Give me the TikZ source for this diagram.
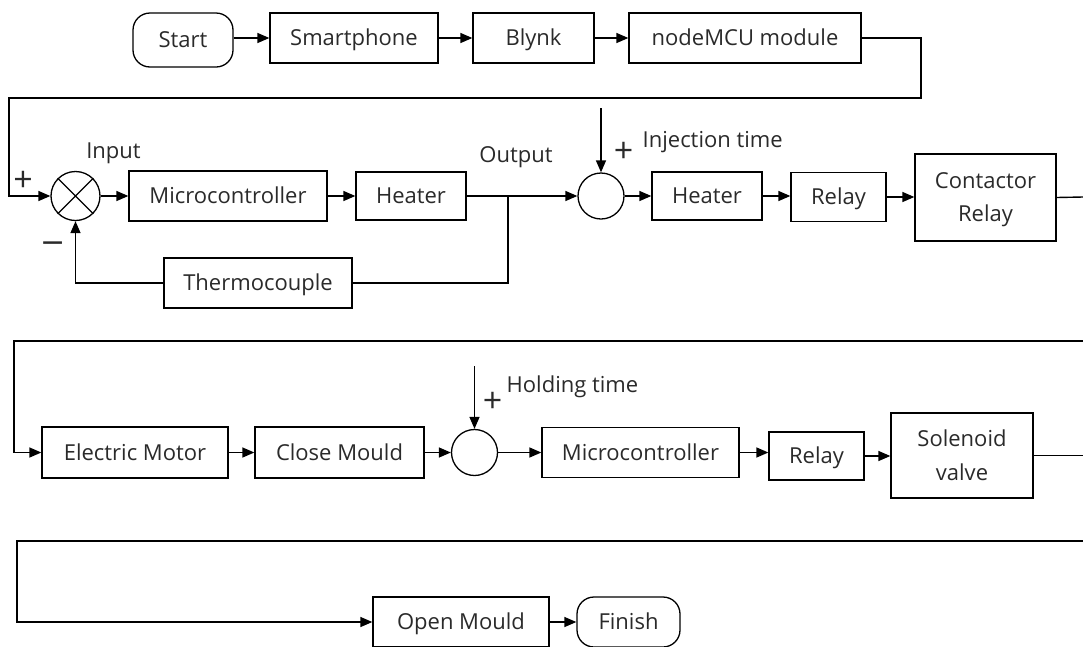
\documentclass[tikz,border=0pt]{standalone}
\usepackage{fontspec}
\setmainfont{Open Sans}
\newfontfamily\djfont{DejaVu Sans}
\usetikzlibrary{arrows.meta}
\definecolor{txt}{HTML}{2A2A2A}
\begin{document}
\begin{tikzpicture}[x=1pt,y=-1pt,
  line width=1.4pt,
  font=\fontsize{22}{26}\selectfont,
  blk/.style={draw, line width=1.3pt, text=txt, inner sep=0pt, text height=15.7pt, text depth=0pt},
  blk2/.style={draw, line width=1.3pt, text=txt, inner sep=0pt, align=center, text depth=0pt},
  term/.style={blk, rounded corners=17pt},
  sumc/.style={draw, line width=1.3pt, circle, inner sep=0pt},
  arr/.style={-{Triangle[length=12pt,width=10pt]}},
  lbl/.style={text=txt, inner sep=0pt},
  sgn/.style={lbl, font=\fontsize{34}{34}\selectfont, text height=25pt, text depth=0pt},
  msgn/.style={lbl, font=\djfont\fontsize{30}{30}\selectfont, text height=19.2pt, text depth=0pt}]
\useasboundingbox (0,0) rectangle (1083,646);
% row 1
\node[term, minimum width=100pt, minimum height=54pt] (start) at (183,40) {Start};
\node[blk, minimum width=168pt, minimum height=50pt] (smart) at (354,38) {Smartphone};
\node[blk, minimum width=121pt, minimum height=50pt] (blynk) at (533.5,38) {Blynk};
\node[blk, minimum width=232pt, minimum height=50pt] (mcu) at (745,38) {nodeMCU module};
\draw[arr] (start.east |- smart) -- (smart.west);
\draw[arr] (smart) -- (blynk);
\draw[arr] (blynk) -- (mcu);
% row 2
\node[sumc, minimum size=49pt] (sum1) at (75.5,196) {};
\draw[line width=1.1pt] (sum1.45) -- (sum1.225) (sum1.135) -- (sum1.315);
\node[blk, minimum width=198pt, minimum height=50pt] (mc1) at (228,196) {Microcontroller};
\node[blk, minimum width=110pt, minimum height=48pt] (heat1) at (411,196) {Heater};
\node[blk, minimum width=188pt, minimum height=50pt] (thermo) at (258,283) {Thermocouple};
\node[sumc, minimum size=46pt] (sum2) at (601,196) {};
\node[blk, minimum width=110pt, minimum height=48pt] (heat2) at (707,196) {Heater};
\node[blk, minimum width=95pt, minimum height=49pt] (relay1) at (838.5,197) {Relay};
\node[blk2, minimum width=141pt, minimum height=87pt] (cont) at (985.5,197.5) {Contactor\\[7pt]Relay};
\coordinate (j1) at (508,196);
\coordinate (inj) at (601,108);
\coordinate (e1) at (1083,197);
\draw[arr] (mcu.east) -- (921,38) -- (921,98) -- (9,98) -- (9,196) -- (sum1.west);
\draw[arr] (sum1) -- (mc1);
\draw[arr] (mc1) -- (heat1);
\draw[arr] (heat1.east) -- (j1) -- (sum2.west);
\draw (j1) -- (j1 |- thermo) -- (thermo.east);
\draw[arr] (thermo.west) -- (sum1 |- thermo) -- (sum1.south);
\draw[arr] (inj) -- (sum2.north);
\draw[arr] (sum2) -- (heat2);
\draw[arr] (heat2.east) -- (heat2.east -| relay1.west);
\draw[arr] (relay1.east) -- (relay1.east -| cont.west);
\draw (cont.east) -- (e1);
\node[lbl] (linput) at (113.5,153) {Input};
\node[lbl] (loutput) at (516,157) {Output};
\node[sgn] (p1) at (23,178.5) {+};
\node[msgn] (m1) at (53,243) {−};
\node[sgn] (p2) at (623.5,150) {+};
\node[lbl, anchor=west] (linj) at (642,142) {Injection time};
% row 3
\coordinate (r3a) at (1083,341);
\coordinate (r3b) at (14,341);
\node[blk, minimum width=186pt, minimum height=51pt] (motor) at (135,452.5) {Electric Motor};
\node[blk, minimum width=169pt, minimum height=51pt] (close) at (339.5,452.5) {Close Mould};
\node[sumc, minimum size=46pt] (sum3) at (474.5,452.5) {};
\node[blk, minimum width=197pt, minimum height=50pt] (mc2) at (640.5,452.5) {Microcontroller};
\node[blk, minimum width=95pt, minimum height=48pt] (relay2) at (816.5,456) {Relay};
\node[blk2, minimum width=142pt, minimum height=85pt] (sol) at (962,455.5) {Solenoid\\[8pt]valve};
\coordinate (hold) at (474.5,366);
\coordinate (e2) at (1083,455.5);
\draw[arr] (r3a) -- (r3b) -- (r3b |- motor) -- (motor.west);
\draw[arr] (motor) -- (close);
\draw[arr] (close) -- (sum3);
\draw[arr] (hold) -- (sum3.north);
\draw[arr] (sum3) -- (mc2);
\draw[arr] (mc2.east) -- (mc2.east -| relay2.west);
\draw[arr] (relay2.east) -- (relay2.east -| sol.west);
\draw (sol.east) -- (e2);
\node[sgn] (p3) at (492.5,400) {+};
\node[lbl, anchor=west] (lhold) at (506,387) {Holding time};
% row 4
\coordinate (r4a) at (1083,541);
\coordinate (r4b) at (17,541);
\node[blk, minimum width=176pt, minimum height=50pt] (open) at (461,622) {Open Mould};
\node[term, minimum width=103pt, minimum height=50pt] (finish) at (628.5,622) {Finish};
\draw[arr] (r4a) -- (r4b) -- (r4b |- open) -- (open.west);
\draw[arr] (open) -- (finish);
\end{tikzpicture}
\end{document}
